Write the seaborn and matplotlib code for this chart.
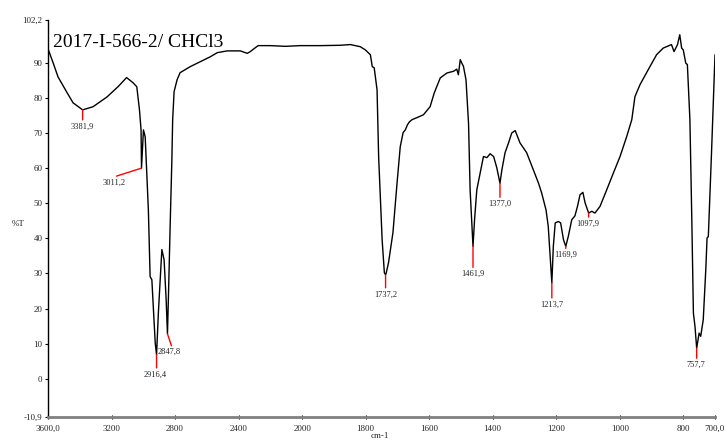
import numpy as np
import pandas as pd
import matplotlib
matplotlib.use("Agg")
import matplotlib.pyplot as plt
import seaborn as sns

# ---------------- data ----------------
wavenumber = [3600, 3567, 3537, 3480, 3442, 3381.9, 3316, 3228, 3159, 3105, 3064, 3041, 3024, 3014,
              3011.2, 2999, 2988, 2968, 2957, 2946, 2925, 2916.4, 2905, 2883, 2869, 2856, 2847.8,
              2841, 2831, 2820, 2815, 2806, 2787, 2768, 2705, 2642, 2579, 2534, 2471, 2389, 2358,
              2345, 2326, 2295, 2276, 2200, 2106, 2011, 1942, 1880, 1848, 1817, 1801, 1792, 1785,
              1779, 1773, 1764, 1759, 1748, 1741, 1737.2, 1735, 1728, 1714, 1701, 1691, 1682, 1675,
              1668, 1662, 1654, 1638, 1618, 1597, 1584, 1565, 1544, 1523, 1513, 1508, 1502, 1497,
              1492, 1484, 1476, 1471, 1461.9, 1457, 1450, 1439, 1429, 1418, 1408, 1397, 1387,
              1377.0, 1371, 1361, 1350, 1340, 1329, 1314, 1293, 1272, 1256, 1246, 1232, 1225, 1219,
              1213.7, 1209, 1203, 1193, 1186, 1177, 1169.9, 1162, 1151, 1141, 1133, 1125, 1116,
              1109, 1097.9, 1088, 1078, 1062, 1041, 1020, 999, 978, 962, 952, 936, 916, 884, 863,
              837, 829, 818, 811, 805, 800, 792, 787, 779, 773, 768, 763, 757.7, 750, 745, 737,
              729, 725, 721, 711, 700]
transmittance = [94.0, 89.9, 86.0, 81.5, 78.6, 76.6, 77.5, 80.3, 83.2, 85.8, 84.3, 83.2, 76.6, 70.9,
                 60.0, 70.9, 68.9, 48.1, 29.1, 28.2, 10.3, 6.8, 18.8, 36.8, 33.9, 22.5, 12.8,
                 24.5, 43.3, 62.4, 73.8, 81.8, 85.2, 87.2, 88.9, 90.3, 91.7, 92.9, 93.4, 93.4, 92.9,
                 92.7, 93.2, 94.3, 94.9, 94.9, 94.7, 94.9, 94.9, 95.0, 95.2, 94.6, 93.7, 92.9, 92.3,
                 88.9, 88.6, 82.3, 63.2, 39.6, 30.2, 29.6, 30.2, 33.0, 41.6, 55.8, 66.1, 70.1, 70.9,
                 72.4, 73.2, 73.8, 74.4, 75.2, 77.5, 81.4, 85.7, 87.1, 87.6, 88.2, 86.6, 90.9, 89.9,
                 89.0, 85.2, 72.8, 53.8, 37.7, 45.3, 53.8, 58.7, 63.3, 63.0, 64.1, 63.3, 60.1,
                 55.7, 59.5, 64.4, 67.2, 70.0, 70.7, 67.2, 64.4, 59.5, 55.8, 53.0, 48.1, 43.4, 34.8,
                 27.3, 37.7, 44.4, 44.8, 44.4, 39.6, 37.7, 40.5, 45.3, 46.4, 49.1, 52.4, 53.1,
                 50.1, 47.2, 47.7, 47.2, 49.1, 53.8, 58.6, 63.3, 69.0, 73.8, 80.4, 83.8, 87.1, 92.3, 94.2,
                 95.2, 93.2, 95.2, 98.0, 94.2, 93.7, 89.9, 89.5, 73.8, 45.3, 18.7, 14.9, 8.7, 13.0, 12.1, 16.8,
                 31.1, 40.1, 40.5, 64.3, 92.3]

peak_wavenumber = [3381.9, 3011.2, 2916.4, 2847.8, 1737.2, 1461.9, 1377.0, 1213.7, 1169.9, 1097.9, 757.7]
peak_transmittance = [76.6, 60.0, 6.8, 12.8, 29.6, 37.7, 55.7, 27.3, 37.7, 47.2, 8.7]
peak_labels = ["3381,9", "3011,2", "2916,4", "2847,8", "1737,2", "1461,9", "1377,0",
               "1213,7", "1169,9", "1097,9", "757,7"]

x_ticks = [3600, 3200, 2800, 2400, 2000, 1800, 1600, 1400, 1200, 1000, 800, 700]
x_tick_labels = ["3600,0", "3200", "2800", "2400", "2000", "1800", "1600", "1400",
                 "1200", "1000", "800", "700,0"]
y_ticks = [-10.9, 0, 10, 20, 30, 40, 50, 60, 70, 80, 90, 102.2]
y_tick_labels = ["-10,9", "0", "10", "20", "30", "40", "50", "60", "70", "80", "90", "102,2"]

title_text = "2017-I-566-2/ CHCl3"
x_label = "cm-1"
y_label = "%T"

# ---------------- style ----------------
sns.set_theme(style="white")
plt.rcParams['font.family'] = ['Liberation Serif', 'DejaVu Serif']

W, H = 726, 441
fig = plt.figure(figsize=(W / 100, H / 100), dpi=100)
ax = fig.add_axes([48 / W, 1 - 417 / H, (715 - 48) / W, (417 - 20) / H])


def fwd(w):
    w = np.asarray(w, dtype=float)
    return np.where(w > 2000, 2000 + (w - 2000) / 2.0, w)


def inv(x):
    x = np.asarray(x, dtype=float)
    return np.where(x > 2000, 2000 + (x - 2000) * 2.0, x)


ax.set_xscale('function', functions=(fwd, inv))

df = pd.DataFrame({"wn": wavenumber, "T": transmittance})
sns.lineplot(data=df, x="wn", y="T", sort=False, estimator=None,
             color="black", linewidth=1.0, ax=ax)

ax.set_xlim(3600, 700)
ax.set_ylim(-10.9, 102.2)
ax.set_xlabel("")
ax.set_ylabel("")

ax.set_xticks(x_ticks)
ax.set_xticklabels(x_tick_labels)
ax.set_yticks(y_ticks)
ax.set_yticklabels(y_tick_labels)
ax.minorticks_off()

ax.tick_params(axis='x', direction='inout', length=3, width=0.8, color='black',
               labelsize=6.5, pad=4, bottom=True)
ax.tick_params(axis='y', direction='out', length=2.5, width=0.8, color='black',
               labelsize=6.5, pad=1.5, left=True)

for s in ['top', 'right']:
    ax.spines[s].set_visible(False)
ax.spines['left'].set_color('black')
ax.spines['left'].set_linewidth(1.0)
ax.spines['bottom'].set_color('#808080')
ax.spines['bottom'].set_linewidth(2.0)

# peak markers: (line dx, line dy, label dx) in pixels
marker_offsets = [(0, -10, 0), (-25, -8, -2), (0, -13, -1.5), (4, -12, -2), (0, -13, 0),
                  (0, -21, 0), (0, -14, 0), (0, -15, 0), (0, -2, -0.5), (0, -4, -1), (0, -10, -1)]
for w, t, lab, (ldx, ldy, tdx) in zip(peak_wavenumber, peak_transmittance, peak_labels, marker_offsets):
    ax.annotate('', xy=(w, t), xytext=(ldx, ldy), textcoords='offset pixels',
                arrowprops=dict(arrowstyle='-', color='red', lw=1.0, shrinkA=0, shrinkB=0))
    ax.annotate(lab, xy=(w, t), xytext=(ldx + tdx, ldy - 2.5), textcoords='offset pixels',
                ha='center', va='top', fontsize=6, color='#222222')

fig.text(53 / W, 1 - 47 / H, title_text, ha='left', va='baseline', fontsize=14, color='black')
fig.text(18 / W, 1 - 224 / H, y_label, ha='center', va='center', fontsize=6.5, color='#222222')
fig.text(380 / W, 0.8 / H, x_label, ha='center', va='bottom', fontsize=6.5, color='#222222')

fig.savefig("out.png", dpi=100)
